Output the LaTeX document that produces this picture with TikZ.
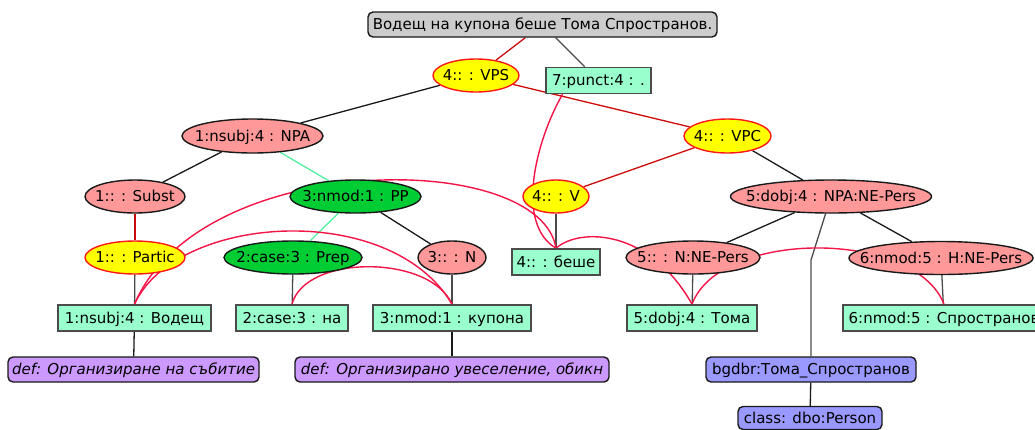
\documentclass[tikz,border=0pt]{standalone}
\usepackage{fontspec}
\setmainfont{DejaVu Sans}
\usetikzlibrary{shapes.geometric,backgrounds}

\definecolor{ylwfill}{RGB}{255,255,0}
\definecolor{ylwline}{RGB}{255,24,24}
\definecolor{pinkfill}{RGB}{255,153,153}
\definecolor{greenfill}{RGB}{0,204,51}
\definecolor{mintfill}{RGB}{153,255,204}
\definecolor{sentfill}{RGB}{204,204,204}
\definecolor{lilacfill}{RGB}{204,153,255}
\definecolor{periwfill}{RGB}{153,153,255}
\definecolor{inkblack}{RGB}{25,25,25}
\definecolor{inkgray}{RGB}{75,75,75}
\definecolor{treered}{RGB}{204,10,10}
\definecolor{arcred}{RGB}{245,20,70}
\definecolor{lightgreen}{RGB}{80,240,160}

% centred label of zero size, so the node's own size is set by minimum width/height
\newcommand\lbl[1]{\makebox[0pt]{\raisebox{-0.36em}[0pt][0pt]{#1}}}

\tikzset{
  base/.style={inner sep=0pt, font=\fontsize{15}{18}\selectfont, line width=1.4pt},
  wh/.style 2 args={minimum width=#1pt, minimum height=#2pt},
  yel/.style={base, ellipse, fill=ylwfill, draw=ylwline},
  pnk/.style={base, ellipse, fill=pinkfill, draw=inkblack},
  grn/.style={base, ellipse, fill=greenfill, draw=inkblack},
  tok/.style={base, rectangle, fill=mintfill, draw=inkgray, line width=1.6pt},
  sent/.style={base, rectangle, rounded corners=5pt, fill=sentfill, draw=inkblack},
  gloss/.style={base, rectangle, rounded corners=5pt, fill=lilacfill, draw=inkblack,
    font=\fontsize{15}{18}\selectfont\itshape},
  ent/.style={base, rectangle, rounded corners=5pt, fill=periwfill, draw=inkblack},
  blk/.style={draw=inkblack, line width=1.3pt},
  gry/.style={draw=inkgray, line width=1.3pt},
  red/.style={draw=treered, line width=1.3pt},
  grl/.style={draw=lightgreen, line width=1.3pt},
  dep/.style={draw=arcred, line width=1.4pt}
}

\begin{document}
\begin{tikzpicture}[x=1pt, y=-1pt]
\useasboundingbox (0,0) rectangle (1035,429);

% sentence
\node[sent, wh={349}{25}] (root) at (542.5,24.5) {\lbl{Водещ на купона беше Тома Спространов.}};

% phrase structure
\node[yel, wh={86}{33}]  (vps)    at (476,75.5)   {\lbl{4:: : VPS}};
\node[tok, wh={105}{26}] (punct)  at (598.5,80.5) {\lbl{7:punct:4 : .}};
\node[pnk, wh={141}{34}] (npa)    at (252.5,136)  {\lbl{1:nsubj:4 : NPA}};
\node[yel, wh={87}{34}]  (vpc)    at (727.5,136)  {\lbl{4:: : VPC}};
\node[pnk, wh={100}{33}] (subst)  at (135,196.5)  {\lbl{1:: : Subst}};
\node[grn, wh={131}{33}] (pp)     at (355.5,196.5){\lbl{3:nmod:1 : PP}};
\node[yel, wh={66}{33}]  (verb)   at (556,196.5)  {\lbl{4:: : V}};
\node[pnk, wh={201}{33}] (dobj)   at (831,196.5)  {\lbl{5:dobj:4 : NPA:NE-Pers}};
\node[yel, wh={100}{33}] (partic) at (135,257.5)  {\lbl{1:: : Partic}};
\node[grn, wh={138}{33}] (prep)   at (293,257.5)  {\lbl{2:case:3 : Prep}};
\node[pnk, wh={68}{33}]  (noun)   at (452,257.5)  {\lbl{3:: : N}};
\node[tok, wh={88}{26}]  (beshe)  at (556,262)    {\lbl{4:: : беше}};
\node[pnk, wh={134}{33}] (nne)    at (693,257.5)  {\lbl{5:: : N:NE-Pers}};
\node[pnk, wh={184}{33}] (hne)    at (941,258)    {\lbl{6:nmod:5 : H:NE-Pers}};

% tokens
\node[tok, wh={153}{26}] (vodesh) at (134.5,318)  {\lbl{1:nsubj:4 : Водещ}};
\node[tok, wh={112}{26}] (na)     at (292,318)    {\lbl{2:case:3 : на}};
\node[tok, wh={158}{26}] (kupona) at (452,318)    {\lbl{3:nmod:1 : купона}};
\node[tok, wh={130}{26}] (toma)   at (692,318)    {\lbl{5:dobj:4 : Тома}};
\node[tok, wh={202}{26}] (sprost) at (944,318)    {\lbl{6:nmod:5 : Спространов}};

% glosses and entities
\node[gloss, wh={251}{25}] (def1) at (133.5,369.5) {\lbl{def: Организиране на събитие}};
\node[gloss, wh={314}{25}] (def2) at (452,369.5)   {\lbl{def: Организирано увеселение, обикн}};
\node[ent, wh={210}{25}]   (bgdbr) at (811,369.5)  {\lbl{bgdbr:Тома\_Спространов}};
\node[ent, wh={144}{23}]   (cls)   at (810,418)    {\lbl{class: dbo:Person}};
\coordinate (bend) at (811,260);

\begin{scope}[on background layer]
  % tree edges
  \draw[red] (root) -- (vps);
  \draw[gry] (root) -- (punct);
  \draw[blk] (vps) -- (npa);
  \draw[red] (vps) -- (vpc);
  \draw[blk] (npa) -- (subst);
  \draw[grl] (npa) -- (pp);
  \draw[red] (vpc) -- (verb);
  \draw[blk] (vpc) -- (dobj);
  \draw[red] (subst) -- (partic);
  \draw[grl] (pp) -- (prep);
  \draw[blk] (pp) -- (noun);
  \draw[gry] (verb) -- (beshe);
  \draw[blk] (dobj) -- (nne);
  \draw[blk] (dobj) -- (hne);
  \draw[gry] (dobj) -- (bend) -- (bgdbr);
  \draw[gry] (partic) -- (vodesh);
  \draw[gry] (prep) -- (na);
  \draw[gry] (noun) -- (kupona);
  \draw[gry] (nne) -- (toma);
  \draw[gry] (hne) -- (sprost);
  \draw[blk] (vodesh) -- (def1);
  \draw[blk] (kupona) -- (def2);
  \draw[blk] (bgdbr) -- (cls);

  % dependency arcs
  \draw[dep] (vodesh.north) .. controls +(66,-155) and +(-16,-99) .. (beshe.north);
  \draw[dep] (vodesh.north) .. controls +(41,-90) and +(-62,-105) .. (kupona.north);
  \draw[dep] (na.north) .. controls +(13,-50) and +(-22,-50) .. (kupona.north);
  \draw[dep] ([xshift=-36pt]punct.south) .. controls +(-27,47) and +(-41,-24) .. (beshe.north);
  \draw[dep] (beshe.north) .. controls +(24,-21) and +(-42,-75) .. (toma.north);
  \draw[dep] (toma.north) .. controls +(28,-75) and +(-29,-75) .. (sprost.north);
\end{scope}
\end{tikzpicture}
\end{document}
